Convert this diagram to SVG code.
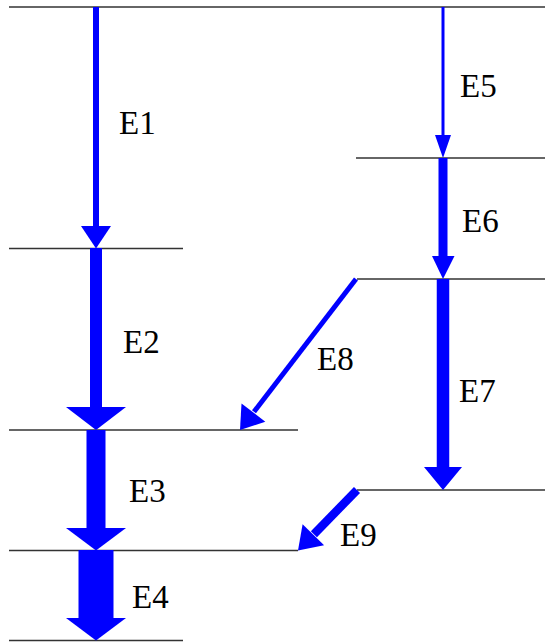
<svg xmlns="http://www.w3.org/2000/svg" width="545" height="644" viewBox="0 0 545 644">
<style>
.lvl{stroke:#333;stroke-width:1.5;fill:none}
.sh{stroke:#0000ff;fill:none}
.hd{fill:#0000ff;stroke:none}
.lb{font-family:"Liberation Serif","Times New Roman",serif;font-size:33px;fill:#000}
</style>
<rect width="545" height="644" fill="#fff"/>
<g id="level-top"><line class="lvl" x1="9" y1="7" x2="545" y2="7"/></g>
<g id="level-E1"><line class="lvl" x1="9" y1="248.5" x2="183" y2="248.5"/></g>
<g id="level-E5"><line class="lvl" x1="356" y1="158" x2="545" y2="158"/></g>
<g id="level-E6"><line class="lvl" x1="357" y1="279" x2="545" y2="279"/></g>
<g id="level-E2"><line class="lvl" x1="9" y1="430" x2="298" y2="430"/></g>
<g id="level-E7"><line class="lvl" x1="357" y1="490" x2="545" y2="490"/></g>
<g id="level-E3"><line class="lvl" x1="9" y1="550.5" x2="298" y2="550.5"/></g>
<g id="level-E4"><line class="lvl" x1="9" y1="640.5" x2="183" y2="640.5"/></g>
<g id="connectors">
<g id="E1"><line class="sh" x1="96" y1="7" x2="96" y2="227" stroke-width="6"/><polygon class="hd" points="81,226 111,226 96,248.5"/><text class="lb" x="119" y="134">E1</text></g>
<g id="E2"><line class="sh" x1="96" y1="248" x2="96" y2="408" stroke-width="12"/><polygon class="hd" points="66,407 126,407 96,430"/><text class="lb" x="123" y="353">E2</text></g>
<g id="E3"><line class="sh" x1="96" y1="430" x2="96" y2="529" stroke-width="19"/><polygon class="hd" points="66,528 126,528 96,550.5"/><text class="lb" x="129" y="502">E3</text></g>
<g id="E4"><line class="sh" x1="96" y1="550" x2="96" y2="619" stroke-width="35"/><polygon class="hd" points="66,618 126,618 96,640.5"/><text class="lb" x="132" y="608">E4</text></g>
<g id="E5"><line class="sh" x1="443" y1="7" x2="443" y2="136" stroke-width="3"/><polygon class="hd" points="435,135 451,135 443,158"/><text class="lb" x="460" y="97">E5</text></g>
<g id="E6"><line class="sh" x1="443" y1="158" x2="443" y2="257" stroke-width="9"/><polygon class="hd" points="432,256 454.5,256 443,279"/><text class="lb" x="462" y="231.5">E6</text></g>
<g id="E7"><line class="sh" x1="443" y1="279" x2="443" y2="468" stroke-width="12.5"/><polygon class="hd" points="424,467 462,467 443,490"/><text class="lb" x="459" y="401.5">E7</text></g>
<g id="E8"><line class="sh" x1="356" y1="279" x2="254" y2="411.8" stroke-width="5"/><polygon class="hd" points="240,430 265.3,421.7 241.5,403.4"/><text class="lb" x="317" y="370">E8</text></g>
<g id="E9"><line class="sh" x1="357" y1="490" x2="313.9" y2="534.2" stroke-width="8.5"/><polygon class="hd" points="298,550.5 324.1,545.2 302.6,524.3"/><text class="lb" x="340" y="546">E9</text></g>
</g>
</svg>
